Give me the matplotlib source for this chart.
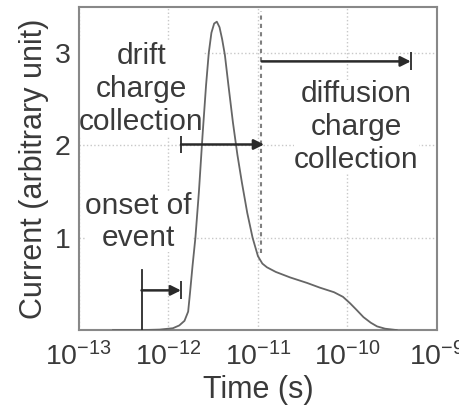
import numpy as np
import matplotlib
matplotlib.use('Agg')
import matplotlib.pyplot as plt

plt.rcParams['font.family'] = ['Liberation Sans', 'DejaVu Sans']
plt.rcParams['mathtext.fontset'] = 'custom'
plt.rcParams['mathtext.rm'] = 'Liberation Sans'
plt.rcParams['mathtext.default'] = 'regular'

# current pulse (time in s, current in arbitrary unit)
time_s = [2.40e-13, 5.01e-13, 7.94e-13, 1.12e-12, 1.32e-12, 1.51e-12, 1.66e-12,
          1.74e-12, 1.86e-12, 2.00e-12, 2.19e-12, 2.40e-12, 2.63e-12, 2.82e-12,
          3.02e-12, 3.24e-12, 3.47e-12, 3.72e-12, 3.98e-12, 4.27e-12, 4.68e-12,
          5.25e-12, 5.89e-12, 6.61e-12, 7.59e-12, 8.71e-12, 1.00e-11, 1.12e-11,
          1.26e-11, 1.58e-11, 2.29e-11, 3.55e-11, 4.90e-11, 7.08e-11, 8.91e-11,
          1.07e-10, 1.26e-10, 1.51e-10, 1.82e-10, 2.14e-10, 2.63e-10, 3.55e-10]
current = [0.0, 0.0, 0.005, 0.02, 0.05, 0.10, 0.20,
           0.40, 0.70, 1.00, 1.50, 2.10, 2.65, 3.00,
           3.22, 3.32, 3.34, 3.28, 3.15, 2.98, 2.65,
           2.25, 1.90, 1.60, 1.27, 1.00, 0.80, 0.72,
           0.68, 0.63, 0.57, 0.51, 0.46, 0.41, 0.36,
           0.29, 0.22, 0.14, 0.08, 0.04, 0.015, 0.0]

x_ticks = [1e-13, 1e-12, 1e-11, 1e-10, 1e-9]
x_labels = ['10$^{-13}$', '10$^{-12}$', '10$^{-11}$', '10$^{-10}$', '10$^{-9}$']
y_ticks = [1, 2, 3]

# annotation anchors
onset_t, onset_end, onset_top, onset_y = 5.0e-13, 1.38e-12, 0.65, 0.43
drift_start, drift_end, drift_y = 1.38e-12, 1.17e-11, 2.01
diff_start, diff_end, diff_y = 1.1e-11, 5.1e-10, 2.91
split_t, split_lo, split_hi = 1.07e-11, 0.84, 3.46

txt = '#3a3a3a'
fig = plt.figure(figsize=(4.59, 4.07), dpi=100)
ax = fig.add_axes([0.172, 0.189, 0.780, 0.794])

ax.plot(time_s, current, color='#666666', lw=1.3, zorder=3)
ax.set_xscale('log')
ax.set_xlim(1e-13, 1e-9)
ax.set_ylim(0, 3.5)
ax.set_xticks(x_ticks)
ax.set_xticklabels(x_labels)
ax.minorticks_off()
ax.set_yticks(y_ticks)
ax.tick_params(length=0, labelsize=20.5, labelcolor=txt)
ax.tick_params(axis='x', pad=9)
ax.tick_params(axis='y', pad=6)
ax.grid(True, ls=':', color='#c8c8c8', lw=1.0)
for s in ax.spines.values():
    s.set_color('#888888')
    s.set_linewidth(1.5)

ax.set_xlabel('Time (s)', fontsize=22, color=txt, labelpad=2)
ax.set_ylabel('Current (arbitrary unit)', fontsize=22, color=txt, labelpad=4)

# separator between drift and diffusion
ax.plot([split_t, split_t], [split_lo, split_hi], color='#808080', lw=1.5,
        ls=(0, (2, 2)), zorder=2)

arr = dict(arrowstyle='-|>', color='#2a2a2a', lw=1.8, mutation_scale=15,
           shrinkA=0, shrinkB=0)
# onset of event
ax.plot([onset_t, onset_t], [0, onset_top], color='#2a2a2a', lw=1.3, zorder=4)
ax.annotate('', xy=(onset_end, onset_y), xytext=(onset_t, onset_y), arrowprops=arr)
ax.plot([onset_end], [onset_y], marker='|', ms=13, mew=1.3, color='#2a2a2a')
# drift
ax.annotate('', xy=(drift_end, drift_y), xytext=(drift_start, drift_y), arrowprops=arr)
ax.plot([drift_start], [drift_y], marker='|', ms=13, mew=1.3, color='#2a2a2a')
# diffusion
ax.annotate('', xy=(diff_end, diff_y), xytext=(diff_start, diff_y), arrowprops=arr)
ax.plot([diff_end], [diff_y], marker='|', ms=13, mew=1.3, color='#2a2a2a')

box = dict(facecolor='white', edgecolor='none', pad=0)
ax.text(5.0e-13, 2.61, 'drift\ncharge\ncollection', fontsize=21.5, color=txt,
        ha='center', va='center', linespacing=1.22, bbox=box, zorder=2.4)
ax.text(1.26e-10, 2.20, 'diffusion\ncharge\ncollection', fontsize=21.5, color=txt,
        ha='center', va='center', linespacing=1.22, bbox=box, zorder=2.4)
ax.text(4.6e-13, 1.17, 'onset of\nevent', fontsize=21.5, color=txt,
        ha='center', va='center', linespacing=1.22, bbox=box, zorder=2.4)

fig.savefig('out.png', dpi=100, facecolor='white')
